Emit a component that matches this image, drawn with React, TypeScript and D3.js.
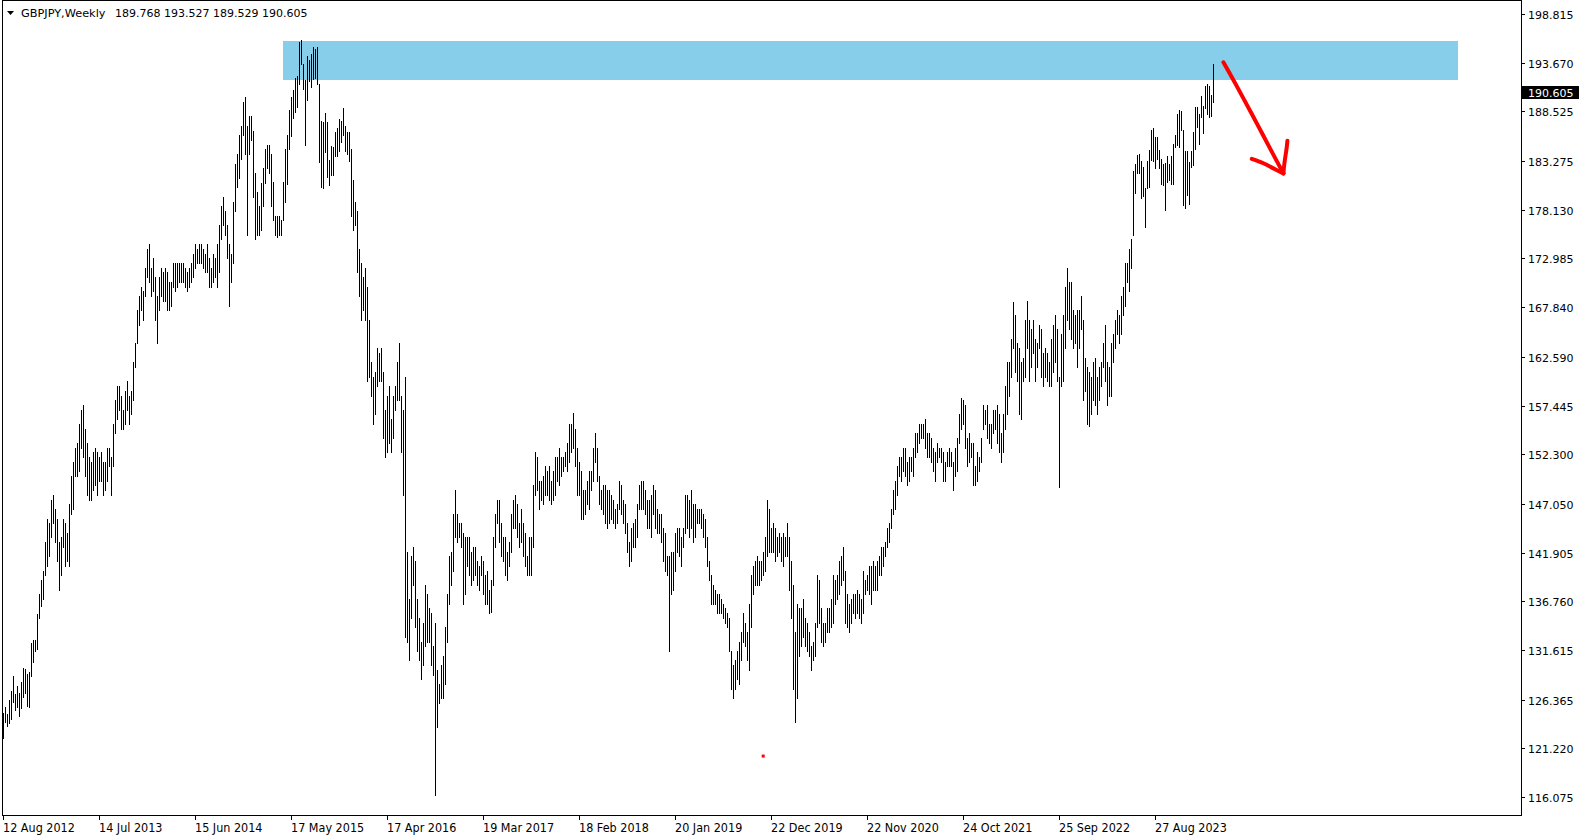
import React from "react";
import * as d3 from "d3";

type HL = [number, number]; // [high, low] for one weekly bar

const bars2012: HL[] = [
  [125.0,122.3],[125.6,124.0],[124.8,123.6],[126.3,123.9],[127.3,124.3],[128.9,126.1],[127.0,125.3],[127.8,125.6],
  [127.1,124.6],[128.2,125.5],[129.7,126.6],[129.6,127.1],[129.1,125.7],[129.3,125.6],[132.3,128.9],[132.7,130.3],
  [132.7,131.5],[135.4,131.7],[137.5,135.0],[139.0,136.3],[140.0,137.0]
];
const bars2013: HL[] = [
  [143.0,139.5],[145.5,140.5],[145.0,141.5],[147.5,143.5],
  [148.0,145.0],[146.5,143.0],[145.5,141.0],[143.0,138.0],
  [143.5,139.5],[145.5,142.5],[145.0,140.5],[144.0,141.0],[147.0,140.5],
  [150.0,146.0],[151.5,146.5],[153.0,150.0],[153.5,150.0],
  [155.5,150.5],[157.0,153.0],[157.5,152.0],[155.0,150.0],
  [153.5,148.0],[152.0,147.5],[151.5,147.5],[152.5,148.5],[153.0,149.0],
  [152.5,148.0],[152.0,149.5],[152.5,149.5],[151.5,148.0],
  [151.5,148.5],[153.0,149.5],[153.0,151.0],[152.0,148.0],
  [155.5,151.0],[158.0,154.5],[159.5,156.0],[159.5,157.0],[158.5,155.0],
  [157.0,155.0],[159.0,155.5],[160.0,157.0],[158.5,155.5],
  [159.0,156.5],[162.0,158.0],[164.0,161.5],[167.5,164.0],
  [169.0,166.0],[170.0,167.5],[169.5,166.5],[172.0,169.0],[174.0,171.0]
];
const bars2014: HL[] = [
  [174.5,170.5],[172.0,169.0],[173.0,169.5],[171.0,166.5],
  [169.0,164.0],[171.0,167.5],[172.0,169.0],[171.5,168.5],
  [172.0,168.5],[171.5,167.5],[170.5,167.5],[170.5,168.0],[172.5,170.0],
  [172.5,169.5],[172.5,170.0],[172.5,170.5],[172.5,170.5],
  [172.5,170.5],[172.0,170.0],[171.5,169.5],[172.0,170.0],
  [172.5,170.5],[173.5,171.0],[174.5,172.0],[174.0,172.5],[174.5,172.5],
  [174.5,172.5],[174.0,172.0],[173.5,171.5],[174.5,171.5],
  [173.0,170.0],[172.0,170.0],[173.5,170.5],[173.0,171.0],[174.5,170.0],
  [176.5,171.5],[178.5,175.0],[179.5,176.5],[178.0,175.5],
  [176.5,173.0],[174.5,168.0],[173.5,170.5],[179.0,172.5],
  [183.0,178.0],[184.0,180.5],[186.0,181.5],[187.0,183.5],[189.5,186.0],
  [190.0,184.0],[187.0,175.5],[188.0,184.0],[188.0,185.5]
];
const bars2015: HL[] = [
  [186.5,179.5],[182.0,175.0],[180.0,175.5],[178.5,175.5],
  [181.0,176.0],[182.5,178.5],[184.5,181.0],[185.0,182.5],
  [185.0,182.0],[184.0,178.5],[181.1,177.0],[177.5,175.5],[177.5,175.2],
  [177.5,175.5],[177.0,175.5],[181.1,177.0],[184.5,179.0],
  [186.0,180.9],[188.7,184.6],[190.0,185.9],[190.8,187.8],[192.0,188.5],
  [192.3,189.0],[195.9,191.4],[196.1,193.5],[193.5,190.9],
  [191.8,185.0],[194.4,189.7],[194.0,191.7],[194.6,191.1],
  [195.3,191.9],[195.1,192.1],[195.3,191.4],[191.4,183.2],[187.5,180.5],
  [187.4,180.4],[188.4,184.2],[187.4,181.6],[183.4,180.7],
  [184.9,181.8],[184.8,181.8],[186.3,183.8],[186.8,183.8],
  [187.7,184.3],[187.5,185.3],[188.9,186.0],[187.0,184.3],[186.3,184.0],
  [186.3,183.3],[184.5,177.5],[181.3,176.0],[179.0,176.5]
];
const bars2016: HL[] = [
  [178.0,171.5],[174.0,169.0],[172.5,166.5],[171.0,167.5],[172.0,166.5],
  [170.0,160.0],[166.5,160.5],[162.0,158.5],[160.5,155.5],
  [161.0,156.5],[163.5,159.5],[163.0,160.0],[163.5,160.0],
  [161.0,154.0],[157.0,152.0],[158.5,152.5],[159.5,153.5],
  [156.0,152.5],[158.5,154.0],[159.5,157.0],[162.0,158.0],[164.0,158.0],
  [158.5,152.5],[157.0,148.0],[160.5,133.0],[142.0,132.5],
  [137.0,130.5],[141.5,135.0],[142.5,138.5],[141.0,134.0],[137.0,131.5],
  [135.0,130.5],[132.5,128.5],[134.5,130.0],[138.5,132.0],
  [137.5,132.5],[136.0,132.5],[135.5,130.0],[132.0,129.0],
  [134.5,116.3],[129.5,123.5],[128.0,126.0],[130.0,126.5],[131.0,126.5],
  [134.0,128.0],[137.5,132.5],[141.5,136.5],[142.0,138.5],
  [146.0,140.0],[148.5,143.5],[146.0,143.0],[145.0,143.5]
];
const bars2017: HL[] = [
  [145.0,142.5],[144.0,136.5],[143.5,137.5],[143.5,140.5],[143.5,139.5],
  [142.0,138.5],[142.5,139.0],[142.5,139.5],[141.0,138.5],
  [140.5,138.0],[141.5,139.5],[141.0,137.5],[139.5,136.5],
  [140.0,136.5],[138.0,135.5],[139.0,135.6],[143.5,138.5],[146.0,142.5],
  [147.5,145.0],[147.5,143.0],[145.0,141.5],[143.5,141.0],
  [143.5,139.5],[142.0,139.0],[143.0,140.5],[146.0,142.0],
  [147.5,144.5],[148.0,144.5],[147.0,143.5],[145.0,142.5],[146.5,143.0],
  [145.0,141.5],[144.0,140.5],[141.5,139.5],[143.5,139.5],
  [143.5,139.5],[149.0,142.5],[152.5,148.0],[152.0,148.5],
  [149.5,146.5],[149.5,147.5],[150.0,147.0],[151.0,148.0],[150.5,148.0],
  [151.0,147.5],[149.5,147.0],[150.5,147.5],[152.0,148.0],
  [152.0,149.5],[153.0,149.0],[152.0,150.0],[152.0,150.5],[152.5,151.0]
];
const bars2018: HL[] = [
  [153.5,150.5],[155.5,151.5],[155.5,152.5],[156.6,153.0],
  [155.0,151.0],[153.0,148.0],[151.5,148.0],[150.5,145.5],
  [148.5,145.5],[148.5,146.0],[149.5,147.0],[150.5,146.5],
  [150.5,148.5],[153.0,149.5],[154.5,151.5],[153.0,149.5],[150.0,147.0],
  [148.5,146.5],[149.0,146.0],[149.0,145.0],[148.5,144.5],
  [148.5,145.0],[148.0,145.5],[147.5,145.0],[146.5,144.5],
  [147.0,145.0],[149.5,146.5],[149.0,146.0],[147.5,145.0],[147.0,144.0],
  [145.0,142.0],[143.0,140.5],[144.5,141.0],[145.0,142.5],
  [145.5,142.5],[147.0,143.5],[149.0,146.5],[149.5,146.5],[149.5,146.5],
  [148.5,146.0],[147.5,144.5],[147.5,144.5],[148.0,143.5],
  [149.0,146.0],[148.5,144.5],[146.5,144.0],[146.0,144.0],
  [146.0,143.0],[144.5,141.0],[144.0,140.0],[141.5,139.5],[141.5,131.5]
];
const bars2019: HL[] = [
  [142.0,137.5],[142.0,138.0],[144.0,140.0],[144.5,142.0],
  [144.5,141.5],[143.5,140.5],[144.5,142.5],[148.0,144.0],
  [148.0,144.5],[147.5,143.5],[148.5,144.5],[147.0,143.0],[147.0,143.5],
  [146.5,145.0],[146.5,145.0],[146.5,144.5],[146.0,143.5],
  [145.5,142.5],[143.5,140.5],[141.0,139.0],[139.5,136.5],
  [138.5,136.5],[138.0,136.5],[137.5,135.5],[137.5,135.5],[137.0,135.5],
  [136.5,135.0],[136.0,134.5],[135.5,134.0],[135.0,131.5],
  [131.5,127.5],[130.0,126.5],[130.5,127.5],[131.5,128.5],
  [132.5,128.0],[133.5,130.5],[135.5,132.5],[134.5,132.0],[133.5,130.5],
  [136.5,129.5],[139.5,134.0],[140.5,137.5],[141.0,138.5],
  [141.5,138.5],[141.0,138.5],[141.0,139.0],[142.0,139.5],
  [143.5,140.0],[147.5,141.5],[146.5,142.0],[144.5,142.0],[145.0,142.0]
];
const bars2020: HL[] = [
  [144.5,141.0],[143.5,141.5],[144.0,142.0],[143.5,141.0],
  [144.0,140.5],[143.5,141.5],[145.0,141.5],[143.5,138.0],
  [141.0,135.0],[138.5,127.5],[133.5,124.0],[136.5,126.5],[136.0,131.0],
  [136.0,132.0],[137.0,133.0],[135.0,132.0],[134.5,131.5],
  [133.5,131.0],[132.0,129.5],[132.5,130.5],[134.5,131.0],[139.5,134.0],
  [139.0,134.5],[136.0,132.5],[134.5,132.0],[134.5,132.5],
  [136.0,133.5],[136.0,133.5],[137.0,134.0],[139.5,134.5],
  [139.0,136.5],[139.5,137.0],[141.0,137.5],[141.5,138.5],[142.5,139.0],
  [140.0,134.5],[137.5,134.0],[136.5,133.5],[137.0,134.5],
  [137.5,135.5],[137.5,135.0],[138.0,135.5],[137.5,135.0],
  [137.0,134.5],[140.0,135.5],[139.0,137.5],[139.5,138.0],[140.5,137.5],
  [140.5,136.5],[141.0,138.0],[140.5,138.0],[141.0,138.0]
];
const bars2021: HL[] = [
  [141.5,139.5],[142.5,139.5],[142.5,140.5],[143.0,141.5],[144.5,142.5],
  [145.0,143.0],[146.5,144.5],[148.5,146.0],[149.5,146.5],
  [151.0,148.0],[152.0,150.0],[152.0,149.5],[153.0,150.5],
  [153.0,150.0],[151.5,149.0],[152.0,149.5],[152.0,150.5],
  [153.0,150.0],[154.5,152.0],[154.5,152.5],[155.5,153.5],[155.5,154.0],
  [155.5,154.0],[156.0,153.0],[154.5,152.0],[154.5,152.0],
  [154.0,151.5],[153.0,150.5],[152.5,149.5],[153.5,151.5],
  [153.0,152.0],[153.0,151.5],[152.5,149.5],[151.5,149.5],[152.5,151.0],
  [153.0,151.0],[152.5,151.0],[151.5,148.5],[153.0,150.0],
  [154.0,150.5],[156.5,153.5],[158.2,155.0],[158.0,155.5],[157.5,153.0],
  [154.0,151.0],[154.5,151.5],[153.5,152.0],[153.5,149.0],
  [151.0,149.0],[152.5,149.5],[152.0,150.5],[154.0,151.5]
];
const bars2022: HL[] = [
  [157.5,155.0],[157.0,155.5],[157.5,154.0],[155.5,153.5],[155.5,153.0],
  [157.0,154.5],[157.0,155.0],[157.5,153.5],[156.5,152.5],
  [154.5,151.5],[156.5,152.5],[159.5,155.0],[162.0,156.5],
  [162.0,158.5],[164.5,160.5],[168.4,163.5],[167.0,161.0],
  [164.0,160.0],[163.5,156.5],[162.0,156.0],[162.5,160.0],[166.5,160.5],
  [168.5,163.5],[166.5,160.0],[165.5,161.5],[166.5,163.0],
  [164.5,160.0],[164.0,161.5],[166.0,163.5],[165.5,160.5],[163.0,159.5],
  [163.5,160.5],[163.0,160.0],[162.0,159.5],[164.5,159.5],
  [166.0,161.0],[167.0,162.0],[165.5,160.0],[160.5,148.8],
  [165.0,159.5],[167.0,160.0],[170.0,163.5],[172.0,166.5],[170.5,165.5],
  [170.5,164.5],[167.5,163.5],[167.0,164.0],[167.5,161.5],
  [167.5,163.5],[169.0,165.5],[166.5,158.0],[162.5,159.0]
];
const bars2023: HL[] = [
  [161.5,155.5],[161.0,155.3],[160.5,156.5],[162.0,158.0],[162.5,157.5],
  [160.5,156.5],[161.5,158.0],[162.0,159.5],[164.0,161.5],
  [166.0,160.0],[162.0,157.5],[161.5,158.5],[164.0,158.5],
  [165.0,162.0],[166.5,163.5],[167.5,165.0],[167.0,164.0],[169.0,165.0],
  [170.0,167.0],[172.5,168.0],[172.5,170.5],[174.0,169.5],
  [175.0,172.0],[182.2,175.5],[183.0,179.9],[183.9,182.0],
  [184.0,182.0],[183.3,179.4],[182.7,179.6],[180.4,176.3],[183.3,180.4],
  [184.4,180.5],[186.6,183.4],[186.8,183.3],[185.8,182.5],
  [185.85,183.5],[184.4,182.5],[183.5,180.85],[183.0,180.7],
  [183.1,178.1],[183.8,181.1],[183.0,181.3],[183.8,180.85],[185.1,180.85],
  [186.0,184.8],[188.3,185.0],[188.7,184.8],[188.6,186.6],
  [186.6,178.6],[184.3,178.3],[184.3,179.7],[183.2,178.7],[184.3,182.7]
];
const bars2024: HL[] = [
  [186.3,182.9],[188.95,184.55],[188.95,186.9],[188.3,185.1],
  [190.15,187.9],[189.1,186.2],[191.2,188.9],[191.4,188.25],
  [191.2,187.9],[190.3,188.0],[193.527,189.529]
];

const weeklyBars: HL[] = [
  ...bars2012, ...bars2013, ...bars2014, ...bars2015, ...bars2016, ...bars2017,
  ...bars2018, ...bars2019, ...bars2020, ...bars2021, ...bars2022, ...bars2023, ...bars2024
];

const priceTicks = [198.815, 193.67, 188.525, 183.275, 178.13, 172.985, 167.84, 162.59, 157.445,
  152.3, 147.05, 141.905, 136.76, 131.615, 126.365, 121.22, 116.075];
const dateLabels = ["12 Aug 2012", "14 Jul 2013", "15 Jun 2014", "17 May 2015", "17 Apr 2016",
  "19 Mar 2017", "18 Feb 2018", "20 Jan 2019", "22 Dec 2019", "22 Nov 2020", "24 Oct 2021",
  "25 Sep 2022", "27 Aug 2023"];
const weeksPerDateLabel = 48;

const symbolTitle = "GBPJPY,Weekly";
const lastOHLC = [189.768, 193.527, 189.529, 190.605];
const lastClose = 190.605;

// supply zone rectangle: [startIndex, endIndex], [top, bottom]
const zoneIdx = [140, 727.5];
const zonePrice = [195.96, 191.84];

// red hand-drawn arrow [barIndex, price]
const arrowShaft: [number, number][] = [[610.2,193.71],[615.2,191.84],[620.2,189.9],[626.9,187.26],[633.5,184.62],[640.2,181.97]];
const arrowLeft: [number, number][] = [[624.4,183.5],[630.2,183.04],[635.2,182.5],[640.2,181.97]];
const arrowRight: [number, number][] = [[640.2,181.97],[640.7,183.03],[641.9,184.78],[642.2,185.42]];
const redDot: [number, number] = [380.1, 120.4];

const FONT = "'DejaVu Sans', Tahoma, sans-serif";

export default function App() {
  const W = 1585, H = 840;
  const x = d3.scaleLinear().domain([0, 605]).range([3, 1213]);
  const y = d3.scaleLinear().domain([116.075, 198.815]).range([797, 14]);
  const line = d3.line<[number, number]>().x(d => x(d[0])).y(d => y(d[1])).curve(d3.curveCatmullRom);

  const frameL = 2, frameT = 0, frameR = 1521, frameB = 815;

  return (
    <svg width={W} height={H} style={{ position: "fixed", left: 0, top: 0, background: "#fff" }}
      fontFamily={FONT}>
      <rect x={0} y={0} width={W} height={H} fill="#fff" />
      {/* supply zone */}
      <rect x={x(zoneIdx[0])} y={y(zonePrice[0])} width={x(zoneIdx[1]) - x(zoneIdx[0])}
        height={y(zonePrice[1]) - y(zonePrice[0])} fill="#87CEEB" />
      {/* bars */}
      <g fill="#000" shapeRendering="crispEdges">
        {weeklyBars.map((b, i) => {
          const yh = Math.round(y(b[0]));
          const yl = Math.round(y(b[1]));
          return <rect key={i} x={Math.round(x(i))} y={yh} width={1} height={Math.max(1, yl - yh + 1)} />;
        })}
      </g>
      {/* arrow */}
      <g fill="none" stroke="#ff0000" strokeWidth={4} strokeLinejoin="round" strokeLinecap="round">
        <path d={line(arrowShaft) || ""} />
        <path d={line(arrowLeft) || ""} />
        <path d={line(arrowRight) || ""} />
      </g>
      <rect x={x(redDot[0]) - 1.5} y={y(redDot[1]) - 1.5} width={3} height={3} fill="#ff0000" />
      {/* frame */}
      <rect x={frameL + 0.5} y={frameT + 0.5} width={frameR - frameL} height={frameB - frameT}
        fill="none" stroke="#000" strokeWidth={1} shapeRendering="crispEdges" />
      {/* title */}
      <path d="M7,11 L14,11 L10.5,15 Z" fill="#000" />
      <text x={21} y={17} fontSize={11.3} fill="#000">{symbolTitle}</text>
      <text x={115} y={17} fontSize={11} fill="#000">{lastOHLC.map(v => v.toFixed(3)).join(" ")}</text>
      {/* price axis */}
      <g shapeRendering="crispEdges">
        {priceTicks.map((v, k) => {
          const yy = Math.round(y(v)) + 0.5;
          return (
            <g key={k}>
              <line x1={frameR + 1} x2={frameR + 4} y1={yy} y2={yy} stroke="#000" />
              <text x={1528} y={yy + 4} fontSize={11} fill="#000" shapeRendering="auto">{v.toFixed(3)}</text>
            </g>
          );
        })}
      </g>
      <rect x={1522} y={Math.round(y(lastClose)) - 6} width={57} height={13} fill="#000" />
      <text x={1528} y={Math.round(y(lastClose)) + 4.5} fontSize={11} fill="#fff">{lastClose.toFixed(3)}</text>
      {/* time axis */}
      {dateLabels.map((lab, k) => {
        const xx = Math.round(x(k * weeksPerDateLabel));
        return (
          <g key={lab}>
            <line x1={xx + 0.5} x2={xx + 0.5} y1={frameB + 1} y2={frameB + 5} stroke="#000" shapeRendering="crispEdges" />
            <text transform={`translate(${xx},831.5) scale(0.92,1)`} fontSize={12.2} fill="#000">{lab}</text>
          </g>
        );
      })}
    </svg>
  );
}
